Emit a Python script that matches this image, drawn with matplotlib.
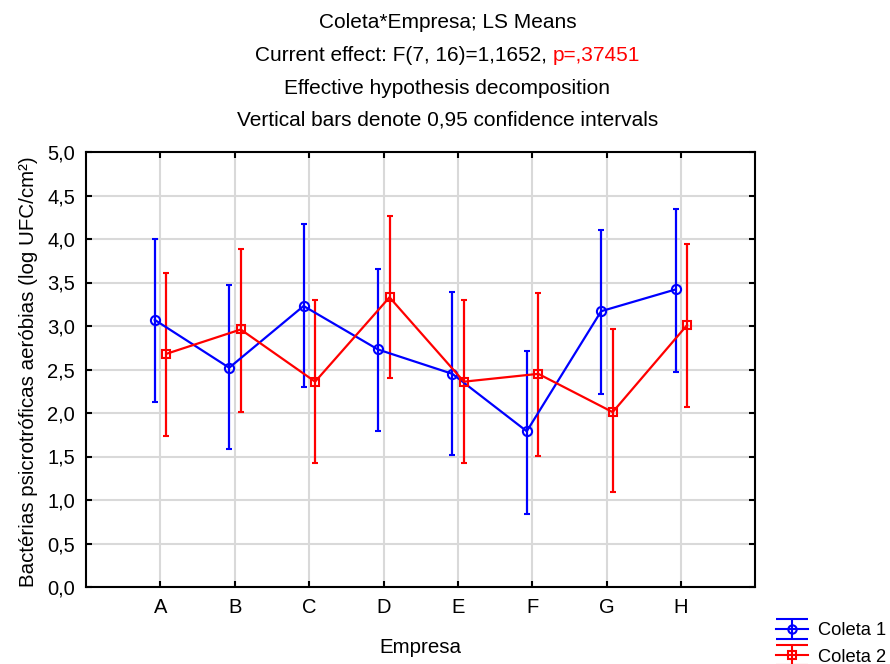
import matplotlib
matplotlib.use("Agg")
import matplotlib.pyplot as plt
import numpy as np
from matplotlib.lines import Line2D
from matplotlib.path import Path
from matplotlib.legend_handler import HandlerTuple
from matplotlib.ticker import FuncFormatter

# ---- data ----
categories = ["A", "B", "C", "D", "E", "F", "G", "H"]
coleta1_mean = [3.07, 2.52, 3.23, 2.73, 2.45, 1.79, 3.17, 3.42]
coleta1_low = [2.13, 1.59, 2.30, 1.79, 1.52, 0.84, 2.22, 2.47]
coleta1_high = [4.00, 3.47, 4.17, 3.66, 3.39, 2.71, 4.10, 4.35]
coleta2_mean = [2.68, 2.96, 2.36, 3.33, 2.36, 2.45, 2.01, 3.01]
coleta2_low = [1.74, 2.01, 1.43, 2.40, 1.43, 1.51, 1.09, 2.07]
coleta2_high = [3.61, 3.89, 3.30, 4.27, 3.30, 3.38, 2.96, 3.94]
series_names = ["Coleta 1", "Coleta 2"]
title_lines = ["Coleta*Empresa; LS Means",
               "Current effect: F(7, 16)=1,1652, ",
               "Effective hypothesis decomposition",
               "Vertical bars denote 0,95 confidence intervals"]
p_text = "p=,37451"
ylabel = "Bactérias psicrotróficas aeróbias (log UFC/cm²)"
xlabel = "Empresa"

plt.rcParams['font.family'] = ['Liberation Sans', 'DejaVu Sans']
FS_TITLE = 15
FS_TICK = 14.5
FS_LABEL = 14.8
FS_LEG = 13.2

W, H = 890, 664
fig = plt.figure(figsize=(W / 100, H / 100), dpi=100)
ax = fig.add_axes([86 / W, 1 - 587 / H, (755.5 - 86) / W, (587 - 152) / H])

x = np.arange(1, len(categories) + 1)
specs = [
    (coleta1_mean, coleta1_low, coleta1_high, "#0000ff", "o", -0.075),
    (coleta2_mean, coleta2_low, coleta2_high, "#ff0000", "s", 0.08),
]
for mean, low, high, color, marker, off in specs:
    mean = np.array(mean)
    yerr = [mean - np.array(low), np.array(high) - mean]
    ax.errorbar(x + off, mean, yerr=yerr, color=color, lw=1.6, elinewidth=1.6,
                capsize=2.4, capthick=1.6, marker=marker, ms=6.6 if marker == "o" else 6.2,
                mfc="none", mec=color, mew=1.5, zorder=3)

ax.set_xlim(0, 9)
ax.set_ylim(0, 5)
ax.set_xticks(x)
ax.set_xticklabels(categories)
ax.set_yticks(np.arange(0, 5.01, 0.5))
ax.yaxis.set_major_formatter(FuncFormatter(lambda v, p: f"{v:.1f}".replace(".", ",")))
ax.grid(True, color="#d9d9d9", lw=1.5, zorder=0)
ax.set_axisbelow(True)
for s in ax.spines.values():
    s.set_linewidth(1.5)
    s.set_color("black")
ax.tick_params(direction="in", length=4.5, width=1.5, top=True, right=True,
               labelsize=FS_TICK, colors="black")
ax.tick_params(axis="y", pad=8)
ax.tick_params(axis="x", pad=8)

ax.set_ylabel(ylabel, fontsize=FS_LABEL)
ax.yaxis.set_label_coords(-0.072, 0.495)
ax.set_xlabel(xlabel, fontsize=FS_LABEL)
ax.xaxis.set_label_coords(0.5, -0.118)

# ---- titles ----
baselines = [28.5, 61, 94, 125.5]
cx = 447.5 / W
fig.canvas.draw()
r = fig.canvas.get_renderer()
for i, (line, b) in enumerate(zip(title_lines, baselines)):
    if i != 1:
        fig.text(cx, 1 - b / H, line, ha="center", va="baseline", fontsize=FS_TITLE)
    else:
        t1 = fig.text(0, 1 - b / H, line, ha="left", va="baseline", fontsize=FS_TITLE)
        t2 = fig.text(0, 1 - b / H, p_text, ha="left", va="baseline", fontsize=FS_TITLE,
                      color="#ff0000")
        w1 = t1.get_window_extent(r).width
        w2 = t2.get_window_extent(r).width
        x0 = cx * W - (w1 + w2) / 2
        t1.set_x(x0 / W)
        t2.set_x((x0 + w1) / W)

# ---- legend ----
ivert = np.array([[-1.6, 1], [1.6, 1], [0, 1], [0, -1], [-1.6, -1], [1.6, -1]])
icodes = [Path.MOVETO, Path.LINETO, Path.MOVETO, Path.LINETO, Path.MOVETO, Path.LINETO]
ipath = Path(ivert, icodes)
handles = []
for (mean, low, high, color, marker, off) in specs:
    h_line = Line2D([], [], color=color, lw=1.5, marker=marker, ms=6, mfc="none",
                    mec=color, mew=1.5)
    h_bar = Line2D([], [], color=color, lw=0, marker=ipath, ms=23, mfc="none",
                   mec=color, mew=1.5)
    handles.append((h_line, h_bar))
fig.legend(handles, series_names, handler_map={tuple: HandlerTuple(ndivide=1)},
           loc="upper left", bbox_to_anchor=(776 / W, 1 - 622 / H), frameon=False,
           fontsize=FS_LEG, handlelength=1.75, handletextpad=0.55, labelspacing=0.52,
           borderpad=0, borderaxespad=0)

fig.savefig("out.png", dpi=100)
